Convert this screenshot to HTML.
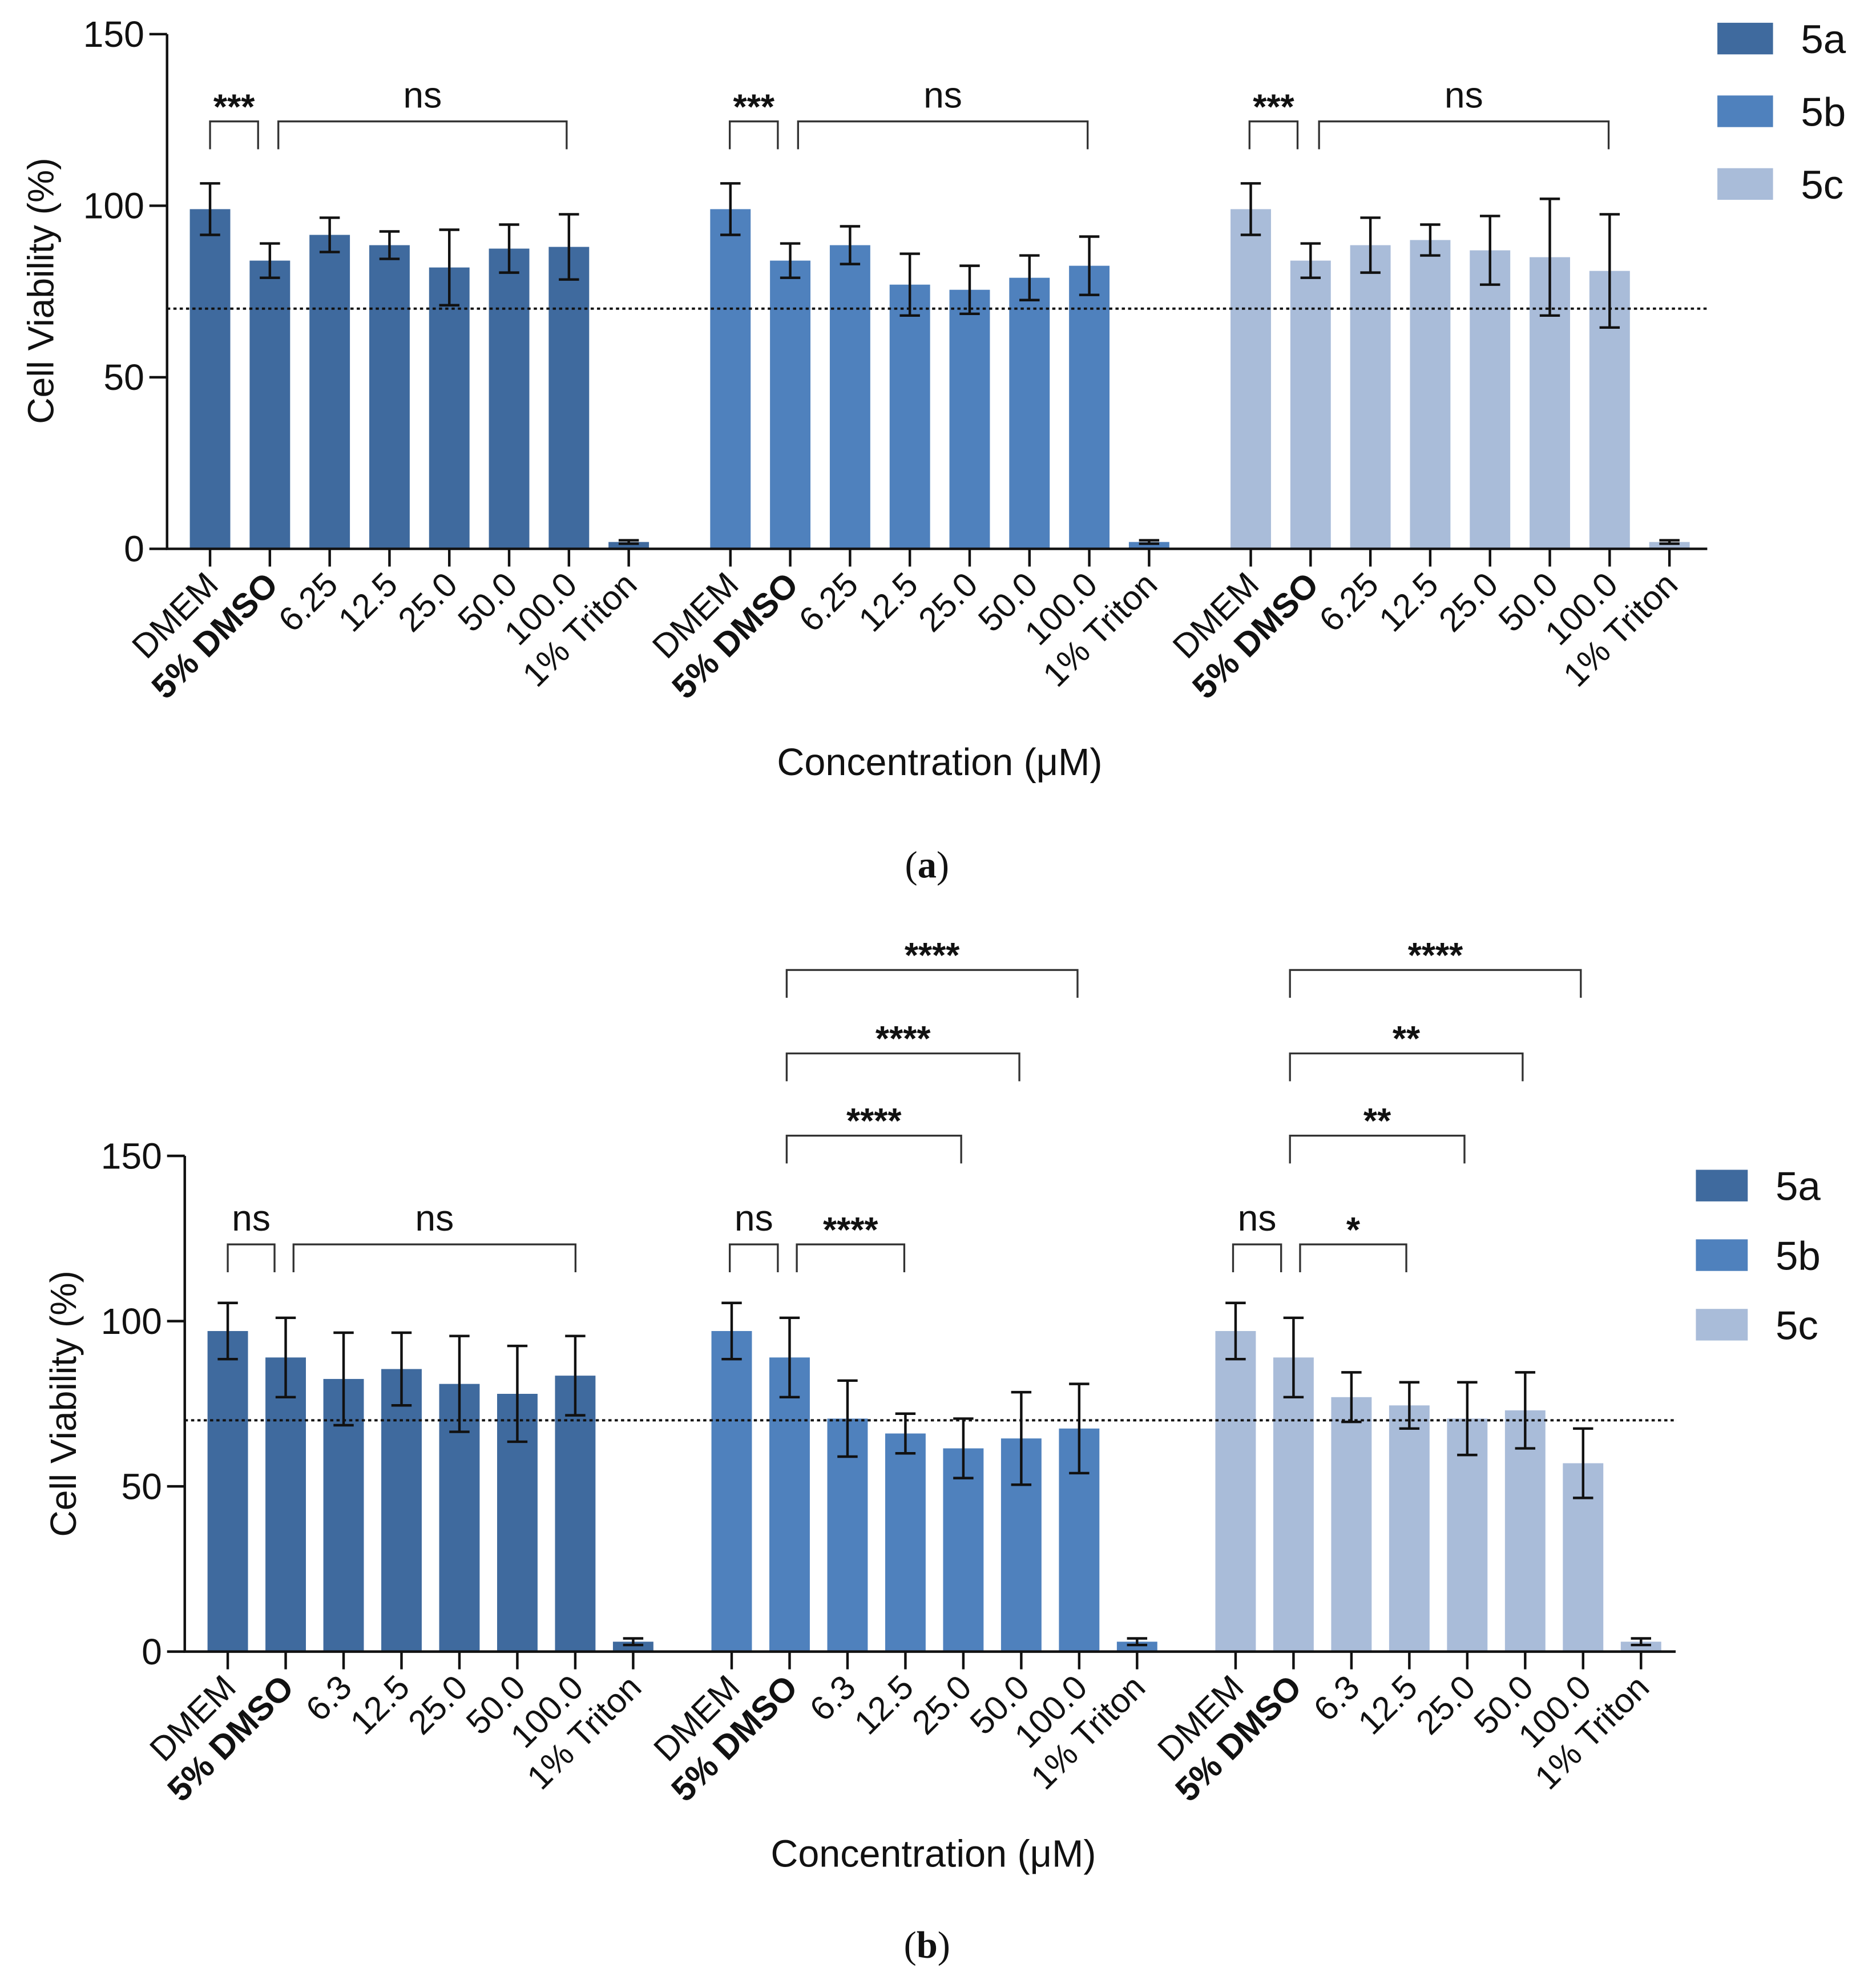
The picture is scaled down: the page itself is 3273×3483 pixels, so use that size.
<!DOCTYPE html>
<html><head><meta charset="utf-8"><style>
html,body{margin:0;padding:0;background:#fff}
svg{display:block}
text{font-family:"Liberation Sans",Arial,sans-serif;fill:#111}
</style></head><body>
<svg id="fig" width="3273" height="3483" viewBox="0 0 1477 1572" xmlns="http://www.w3.org/2000/svg"></svg>
<script>
const categoriesA = ["DMEM","5% DMSO","6.25","12.5","25.0","50.0","100.0","1% Triton"];
const categoriesB = ["DMEM","5% DMSO","6.3","12.5","25.0","50.0","100.0","1% Triton"];
const seriesNames = ["5a","5b","5c"];
const yTicks = [0,50,100,150];
const threshold = 70;
const a5a = [99,84,91.5,88.5,82,87.5,88,2];
const a5aErr = [7.5,5,5,4,11,7,9.5,0.5];
const a5b = [99,84,88.5,77,75.5,79,82.5,2];
const a5bErr = [7.5,5,5.5,9,7,6.5,8.5,0.5];
const a5c = [99,84,88.5,90,87,85,81,2];
const a5cErr = [7.5,5,8,4.5,10,17,16.5,0.5];
const b5a = [97,89,82.5,85.5,81,78,83.5,3];
const b5aErr = [8.5,12,14,11,14.5,14.5,12,1];
const b5b = [97,89,70.5,66,61.5,64.5,67.5,3];
const b5bErr = [8.5,12,11.5,6,9,14,13.5,1];
const b5c = [97,89,77,74.5,70.5,73,57,3];
const b5cErr = [8.5,12,7.5,7,11,11.5,10.5,1];

const colors = ["#3f6a9e","#4f81bd","#a9bcd9"];
const NS="http://www.w3.org/2000/svg";
const svg=document.getElementById('fig');
function mk(tag,attrs,parent){const e=document.createElementNS(NS,tag);for(const k in attrs)e.setAttribute(k,attrs[k]);(parent||svg).appendChild(e);return e;}

function drawChart(cfg){
  const g=mk('g',{});
  
  
  const y=v=>cfg.y0-(v/150)*(cfg.y0-cfg.y150);
  const x=(s,i)=>cfg.x0+s*cfg.groupOff+i*cfg.step;
  cfg.series.forEach((vals,s)=>{
    vals.forEach((v,i)=>{
      const r=mk('rect',{x:x(s,i)-16,y:y(v),width:32,height:cfg.y0-y(v),fill:colors[s]},g);
      
      
      const e=cfg.errs[s][i];
      const eb=mk('path',{d:`M${x(s,i)} ${y(v+e)}V${y(v-e)}M${x(s,i)-8} ${y(v+e)}h16M${x(s,i)-8} ${y(v-e)}h16`,stroke:'#111','stroke-width':2,fill:'none'},g);
      
      
    });
  });
  const th=mk('line',{x1:cfg.x0-34,x2:cfg.xEnd,y1:y(threshold),y2:y(threshold),stroke:'#111','stroke-width':1.8,'stroke-dasharray':'2.5 2.5'},g);
  
  
  const ax=mk('path',{d:`M${cfg.ax} ${cfg.y150}V${cfg.y0}H${cfg.xEnd}`,stroke:'#111','stroke-width':2,fill:'none'},g);
  
  
  yTicks.forEach(t=>{
    mk('line',{x1:cfg.ax-14,x2:cfg.ax,y1:y(t),y2:y(t),stroke:'#111','stroke-width':2},g);
    const tx=mk('text',{x:cfg.ax-18,y:y(t)+10,'text-anchor':'end','font-size':29},g);
    tx.textContent=t;
    
    
  });
  for(let s=0;s<3;s++)cfg.cats.forEach((c,i)=>{
    mk('line',{x1:x(s,i),x2:x(s,i),y1:cfg.y0,y2:cfg.y0+14,stroke:'#111','stroke-width':2},g);
    const tx=mk('text',{transform:`translate(${x(s,i)+8},${cfg.y0+30}) rotate(-45)`,'text-anchor':'end','font-size':27,'font-weight':i==1?'bold':'normal'},g);
    tx.textContent=c;
    
    
  });
  const yt=mk('text',{transform:`translate(${cfg.ytx},${cfg.yty}) rotate(-90)`,'text-anchor':'middle','font-size':29},g);
  yt.textContent='Cell Viability (%)';
  
  
  const xt=mk('text',{x:cfg.xtx,y:cfg.xty,'text-anchor':'middle','font-size':30},g);
  xt.textContent='Concentration (\u03bcM)';
  
  
  cfg.brackets.forEach(b=>{
    const p=mk('path',{d:`M${b[0]} ${b[2]+22}V${b[2]}H${b[1]}V${b[2]+22}`,stroke:'#333','stroke-width':1.5,fill:'none'},g);
    
    
    const t=mk('text',{x:(b[0]+b[1])/2,y:b[3]=='ns'?b[2]-11:b[2]-2,'text-anchor':'middle','font-size':b[3]=='ns'?29:28,'font-weight':b[3]=='ns'?'normal':'bold'},g);
    t.textContent=b[3];
    
    
  });
  seriesNames.forEach((n,s)=>{
    const r=mk('rect',{x:cfg.lx,y:cfg.ly+s*cfg.lstep-12,width:cfg.lw,height:25,fill:colors[s]},g);
    
    
    const t=mk('text',{x:cfg.lx+cfg.lw+22,y:cfg.ly+s*cfg.lstep+12,'font-size':32},g);
    t.textContent=n;
    
    
  });
  const cap=mk('text',{x:733,y:cfg.capY,'text-anchor':'middle','font-size':30,style:'font-family:"Liberation Serif",serif'},g);
  cap.innerHTML=cfg.cap;
  
  
}

drawChart({name:'chart-a',cats:categoriesA,series:[a5a,a5b,a5c],errs:[a5aErr,a5bErr,a5cErr],
  y0:434,y150:27,ax:132,xEnd:1350,x0:166,step:47.3,groupOff:411.5,
  ytx:42,yty:230,xtx:743,xty:613,lx:1358,ly:30,lstep:57.5,lw:44,capY:694,
  cap:'(<tspan font-weight="bold">a</tspan>)',
  brackets:[[166,204,96,'***'],[220,448,96,'ns'],[577,615,96,'***'],[631,860,96,'ns'],[988,1026,96,'***'],[1043,1272,96,'ns']]});
drawChart({name:'chart-b',cats:categoriesB,series:[b5a,b5b,b5c],errs:[b5aErr,b5bErr,b5cErr],
  y0:1306,y150:914,ax:146,xEnd:1325,x0:180,step:45.8,groupOff:398.5,
  ytx:60,yty:1110,xtx:738,xty:1476,lx:1341,ly:937,lstep:55,lw:41,capY:1548,
  cap:'(<tspan font-weight="bold">b</tspan>)',
  brackets:[[180,217,984,'ns'],[232,455,984,'ns'],[577,615,984,'ns'],[630,715,984,'****'],
    [622,760,898,'****'],[622,806,833,'****'],[622,852,767,'****'],
    [975,1013,984,'ns'],[1028,1112,984,'*'],[1020,1158,898,'**'],[1020,1204,833,'**'],[1020,1250,767,'****']]});
</script>
</body></html>
